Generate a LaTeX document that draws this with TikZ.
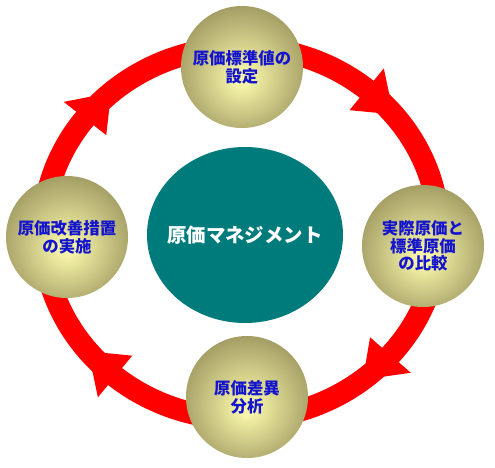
\documentclass[tikz,border=0pt]{standalone}
\usepackage{fontspec}
\setmainfont{Noto Sans CJK JP}
\usepackage{tikz}
\usetikzlibrary{shapes.geometric, arrows.meta, positioning, calc}
\definecolor{ringred}{RGB}{255,0,0}
\definecolor{hubteal}{RGB}{0,123,123}
\definecolor{balllo}{RGB}{158,152,96}
\definecolor{ballhi}{RGB}{246,244,168}
\definecolor{stagetext}{RGB}{20,20,205}
\pgfdeclareradialshading{ballshade}{\pgfpoint{0bp}{-5bp}}{color(0bp)=(ballhi); color(3bp)=(ballhi); color(29bp)=(balllo); color(50bp)=(balllo)}
\tikzset{
    stage/.style={
        circle, minimum size=3.66cm, inner sep=0pt, align=center,
        shade, shading=ballshade, text=stagetext, font=\fontsize{14}{15.2}\selectfont\bfseries
    },
    hub/.style={
        ellipse, minimum width=5.88cm, minimum height=5.28cm, inner sep=0pt, fill=hubteal
    },
    hubtext/.style={
        text=white, inner sep=0pt, font=\fontsize{16.6}{18}\selectfont\bfseries
    },
    ringline/.style={
        line width=0.66cm, draw=ringred
    },
    ringhead/.style={
        fill=ringred
    }
}
\begin{document}
\begin{tikzpicture}[x=0.03cm, y=-0.03cm]
    \useasboundingbox (0,0) rectangle (495,467);
    % cycle ring with four heads
    \coordinate (ringc) at (241,233);
    \draw[ringline] (ringc) ellipse [x radius=198, y radius=186];
    \foreach \a in {41,129.5,218,309.4} {
        \fill[ringhead] ($(ringc)+({225*cos(\a)},{213*sin(\a)})$) -- ($(ringc)+({198*cos(\a+11)},{186*sin(\a+11)})$) -- ($(ringc)+({171*cos(\a)},{159*sin(\a)})$) -- cycle;
    }
    % stages
    \node[stage] (setstd) at (242,67) {原価標準値の\\設定};
    \node[stage] (compare) at (423,246) {実際原価と\\標準原価\\の比較};
    \node[stage] (variance) at (247,397) {原価差異\\分析};
    \node[stage] (improve) at (67,237) {原価改善措置\\の実施};
    \node[hub] (hub) at (245,235) {};
    \node[hubtext] (hubtitle) at (hub.center) {原価マネジメント};
\end{tikzpicture}
\end{document}
